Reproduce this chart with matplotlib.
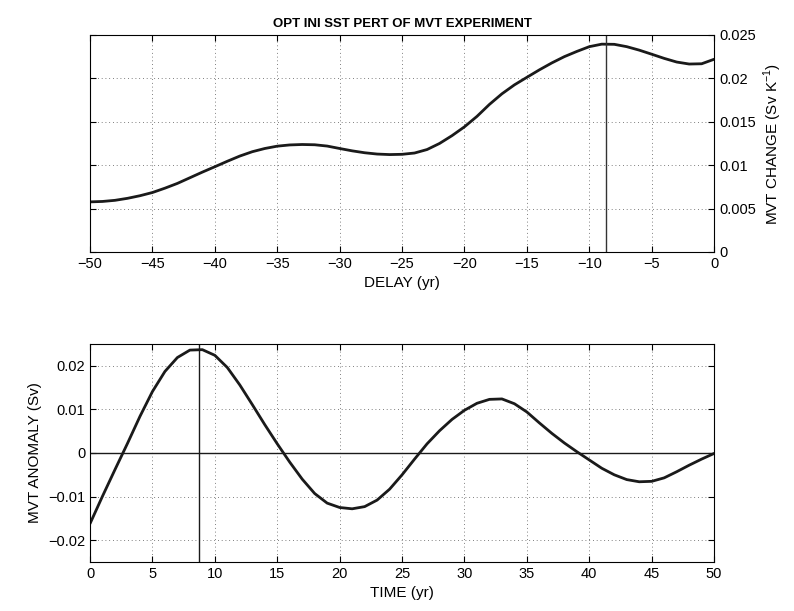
import numpy as np
import matplotlib.pyplot as plt

plt.rcParams['font.family'] = ['Liberation Sans', 'DejaVu Sans']

# top panel: sensitivity vs delay
delay = np.arange(-50, 1, 1)
mvt_change = [0.00577, 0.00582, 0.00595, 0.00618, 0.00648, 0.00685, 0.00735, 0.00790, 0.00855, 0.00920,
              0.00982, 0.01045, 0.01105, 0.01155, 0.01192, 0.01219, 0.01233, 0.01238, 0.01235, 0.01220,
              0.01192, 0.01165, 0.01143, 0.01128, 0.01122, 0.01125, 0.01140, 0.01180, 0.01250, 0.01340,
              0.01442, 0.01562, 0.01700, 0.01822, 0.01925, 0.02012, 0.02098, 0.02178, 0.02250, 0.02310,
              0.02365, 0.02394, 0.02392, 0.02365, 0.02325, 0.02278, 0.02230, 0.02188, 0.02165, 0.02168,
              0.02220]

# bottom panel: anomaly vs time
time = np.arange(0, 51, 1)
mvt_anom = [-0.0162, -0.0099, -0.0038, 0.0022, 0.0084, 0.0141, 0.0187, 0.0219, 0.0236, 0.0237,
            0.0224, 0.0196, 0.0156, 0.0111, 0.0065, 0.0021, -0.0021, -0.0060, -0.0093, -0.0115,
            -0.0125, -0.0128, -0.0123, -0.0108, -0.0083, -0.0050, -0.0014, 0.0021, 0.0051, 0.0077,
            0.0098, 0.0114, 0.0123, 0.0124, 0.0113, 0.0094, 0.0069, 0.0045, 0.0023, 0.0003,
            -0.0016, -0.0035, -0.0050, -0.0061, -0.0066, -0.0065, -0.0057, -0.0043, -0.0028, -0.0014,
            -0.0001]

t_mark = 8.7

def fmt(v):
    return ('%g' % v).replace('-', '\u2212')

fig = plt.figure(figsize=(7.94, 6.11), dpi=100)
ax1 = fig.add_axes([0.1134, 0.5876, 0.786, 0.3552])
ax2 = fig.add_axes([0.1134, 0.0802, 0.786, 0.3568])

gridkw = dict(color='#555555', linestyle=(0, (1, 3.5)), linewidth=0.6)
linekw = dict(color='#1a1a1a', lw=2, solid_joinstyle='round', solid_capstyle='round')

# top
ax1.plot(delay, mvt_change, **linekw)
ax1.axvline(-t_mark, color='#333333', lw=1)
ax1.set_xlim(-50, 0)
ax1.set_ylim(0, 0.025)
xt1 = np.arange(-50, 1, 5)
ax1.set_xticks(xt1)
ax1.set_xticklabels([fmt(v) for v in xt1])
yt1 = [0, 0.005, 0.01, 0.015, 0.02, 0.025]
ax1.set_yticks(yt1)
ax1.set_yticklabels([fmt(v) for v in yt1])
ax1.yaxis.tick_right()
ax1.yaxis.set_label_position('right')
ax1.set_xlabel('DELAY (yr)', fontsize=11)
ax1.set_ylabel('MVT CHANGE (Sv K$^{\\mathregular{-1}}$)', fontsize=11)
ax1.set_title('OPT INI SST PERT OF MVT EXPERIMENT', fontsize=9.5, fontweight='bold', pad=6)

# bottom
ax2.plot(time, mvt_anom, **linekw)
ax2.axvline(t_mark, color='#1a1a1a', lw=1)
ax2.axhline(0, color='#1a1a1a', lw=1)
ax2.set_xlim(0, 50)
ax2.set_ylim(-0.025, 0.025)
xt2 = np.arange(0, 51, 5)
ax2.set_xticks(xt2)
ax2.set_xticklabels([fmt(v) for v in xt2])
yt2 = [-0.02, -0.01, 0, 0.01, 0.02]
ax2.set_yticks(yt2)
ax2.set_yticklabels([fmt(v) for v in yt2])
ax2.set_xlabel('TIME (yr)', fontsize=11)
ax2.set_ylabel('MVT ANOMALY (Sv)', fontsize=11)

for ax in (ax1, ax2):
    ax.grid(True, **gridkw)
    ax.tick_params(direction='in', top=True, bottom=True, left=True, right=True,
                   labelsize=10.5, length=4, width=0.8)
    for sp in ax.spines.values():
        sp.set_linewidth(0.8)

fig.savefig('out.png', dpi=100)
